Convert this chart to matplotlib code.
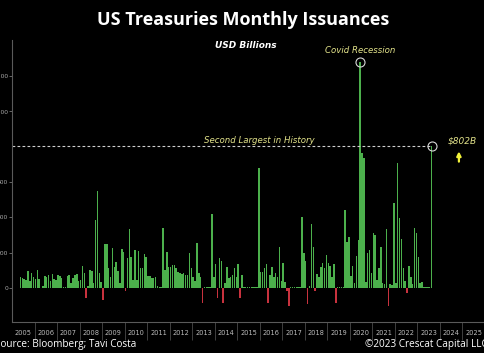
import matplotlib
matplotlib.use('Agg')
import matplotlib.pyplot as plt
import numpy as np

# ---- data (USD billions, monthly net issuance) ----
year_labels = [str(y) for y in range(2005, 2026)]
v2005 = [0, 0, 0, 0, 60, 55, 49, 45, 95, 40, 83, 64]
v2006 = [50, 102, 50, 0, 10, 68, 60, 75, 40, 79, 50, 45]
v2007 = [74, 70, 55, 5, 5, 68, 74, 30, 55, 74, 79, 40]
v2008 = [45, 125, 83, -58, 10, 102, 98, 30, 385, 552, 87, 36]
v2009 = [-68, 250, 250, 111, 60, 225, 121, 145, 98, 30, 221, 206]
v2010 = [-15, 168, 335, 178, 45, 215, 45, 212, 111, 111, 193, 174]
v2011 = [70, 65, 55, 55, 60, 10, 5, 5, 342, 102, 206, 121]
v2012 = [121, 130, 130, 111, 90, 85, 80, 83, 75, 75, 196, 111]
v2013 = [64, 40, 253, 83, 64, -87, 5, 5, 5, 5, 420, 64]
v2014 = [136, -58, 168, 150, -87, 30, 117, 55, 64, 74, 111, 60]
v2015 = [136, -58, 74, 5, 5, 5, 5, 5, 5, 5, 5, 678]
v2016 = [93, 93, 111, 136, -83, 74, 117, 64, 83, 64, 234, 40]
v2017 = [140, 36, -20, -105, 3, 3, 3, 3, 3, 3, 400, 196]
v2018 = [150, -90, 10, 363, 234, -15, 79, 64, 121, 143, 111, 185]
v2019 = [140, 125, 60, 134, -87, 3, 3, 3, 3, 442, 263, 287]
v2020 = [68, 125, 26, 181, 272, 1280, 767, 735, 36, 200, 215, 83]
v2021 = [310, 300, 45, 111, 231, 30, 20, 333, -100, 20, 15, 480]
v2022 = [30, 710, 395, 280, 111, 40, -26, 125, 64, 20, 338, 310]
v2023 = [174, 30, 36, 5, 5, 5, 5, 802]

values = np.array(v2005 + v2006 + v2007 + v2008 + v2009 + v2010 + v2011 +
                  v2012 + v2013 + v2014 + v2015 + v2016 + v2017 + v2018 +
                  v2019 + v2020 + v2021 + v2022 + v2023, dtype=float)
months = np.arange(len(values))

second_largest = 802
covid_idx = int(np.argmax(values))
last_idx = len(values) - 1

# ---- figure ----
W, H = 485, 353
fig = plt.figure(figsize=(W / 100, H / 100), dpi=100, facecolor='black')
ax = fig.add_axes([12 / W, 1 - 322 / H, 1 - 12 / W, (322 - 40) / H])
ax.set_facecolor('black')

colors = np.where(values >= 0, '#4cb04c', '#c8323e')
ax.bar(months, values, width=0.8, color=colors, edgecolor='none')

px_per_month = 1.9
ax.set_xlim(-0.5, (W - 12) / px_per_month - 0.5)
ax.set_ylim(-193, 1405)

# year ticks
n_years = len(year_labels)
ax.set_xticks([12 * k + 5.5 for k in range(n_years)])
ax.set_xticklabels(year_labels)
ax.set_xticks([12 * k - 0.5 for k in range(1, n_years + 1)], minor=True)
ax.tick_params(axis='x', which='major', length=0, pad=6, labelsize=4.8,
               colors='#bbbbbb')
ax.tick_params(axis='x', which='minor', length=13, width=0.6,
               color='#4a4a4a', direction='out')

yt = [0, 200, 400, 600, 1000, 1200]
ax.set_yticks(yt)
ax.set_yticklabels(['0', '200', '400', '600', '1,000', '1,200'])
ax.tick_params(axis='y', length=2, width=0.6, color='#777777', labelsize=4.3,
               labelcolor='#aaaaaa', pad=0.8)

for s in ['top', 'right']:
    ax.spines[s].set_visible(False)
for s in ['left', 'bottom']:
    ax.spines[s].set_color('#5a5a5a')
    ax.spines[s].set_linewidth(0.8)

# highlighted 802 label
ax.text(-0.6, second_largest, str(second_largest), transform=ax.get_yaxis_transform(),
        ha='right', va='center', fontsize=4.3, color='#d8f5d8',
        bbox=dict(boxstyle='square,pad=0.12', facecolor='#2f9a2f', edgecolor='none'),
        clip_on=False)
ax.plot([-0.5, last_idx], [second_largest, second_largest], ls=(0, (2.5, 2)),
        color='#cfcfcf', lw=0.8)

# circles
ax.plot([covid_idx, last_idx], [values[covid_idx], values[last_idx]], 'o',
        ms=6.5, mfc='none', mec='#d8d8d8', mew=0.8)

yel = '#e2e28a'
ax.text(covid_idx, 1345, 'Covid Recession', ha='center', va='center',
        fontsize=6.2, style='italic', color=yel)
ax.text(131.5, 835, 'Second Largest in History', ha='center', va='center',
        fontsize=6.2, style='italic', color=yel)
ax.text(231.5, 835, '$802B', ha='left', va='center', fontsize=6.5,
        style='italic', color=yel)
ax.annotate('', xy=(237.6, 790), xytext=(237.6, 700),
            arrowprops=dict(arrowstyle='-|>', color='#f2f23a', lw=1.6,
                            mutation_scale=6))

# titles and footers
fig.text(243 / W, 1 - 20 / H, 'US Treasuries Monthly Issuances', ha='center',
         va='center', fontsize=13, fontweight='bold', color='white',
         family='Open Sans')
fig.text(246 / W, 1 - 46 / H, 'USD Billions', ha='center', va='center',
         fontsize=6.5, fontweight='bold', style='italic', color='white')
fig.text(-5 / W, 1 - 345 / H, 'Source: Bloomberg; Tavi Costa', ha='left',
         va='center', fontsize=7.2, color='white', family='Open Sans')
fig.text(488 / W, 1 - 345 / H, '\u00a92023 Crescat Capital LLC', ha='right',
         va='center', fontsize=7.2, color='white', family='Open Sans')

fig.savefig('out.png', dpi=100, facecolor='black')
